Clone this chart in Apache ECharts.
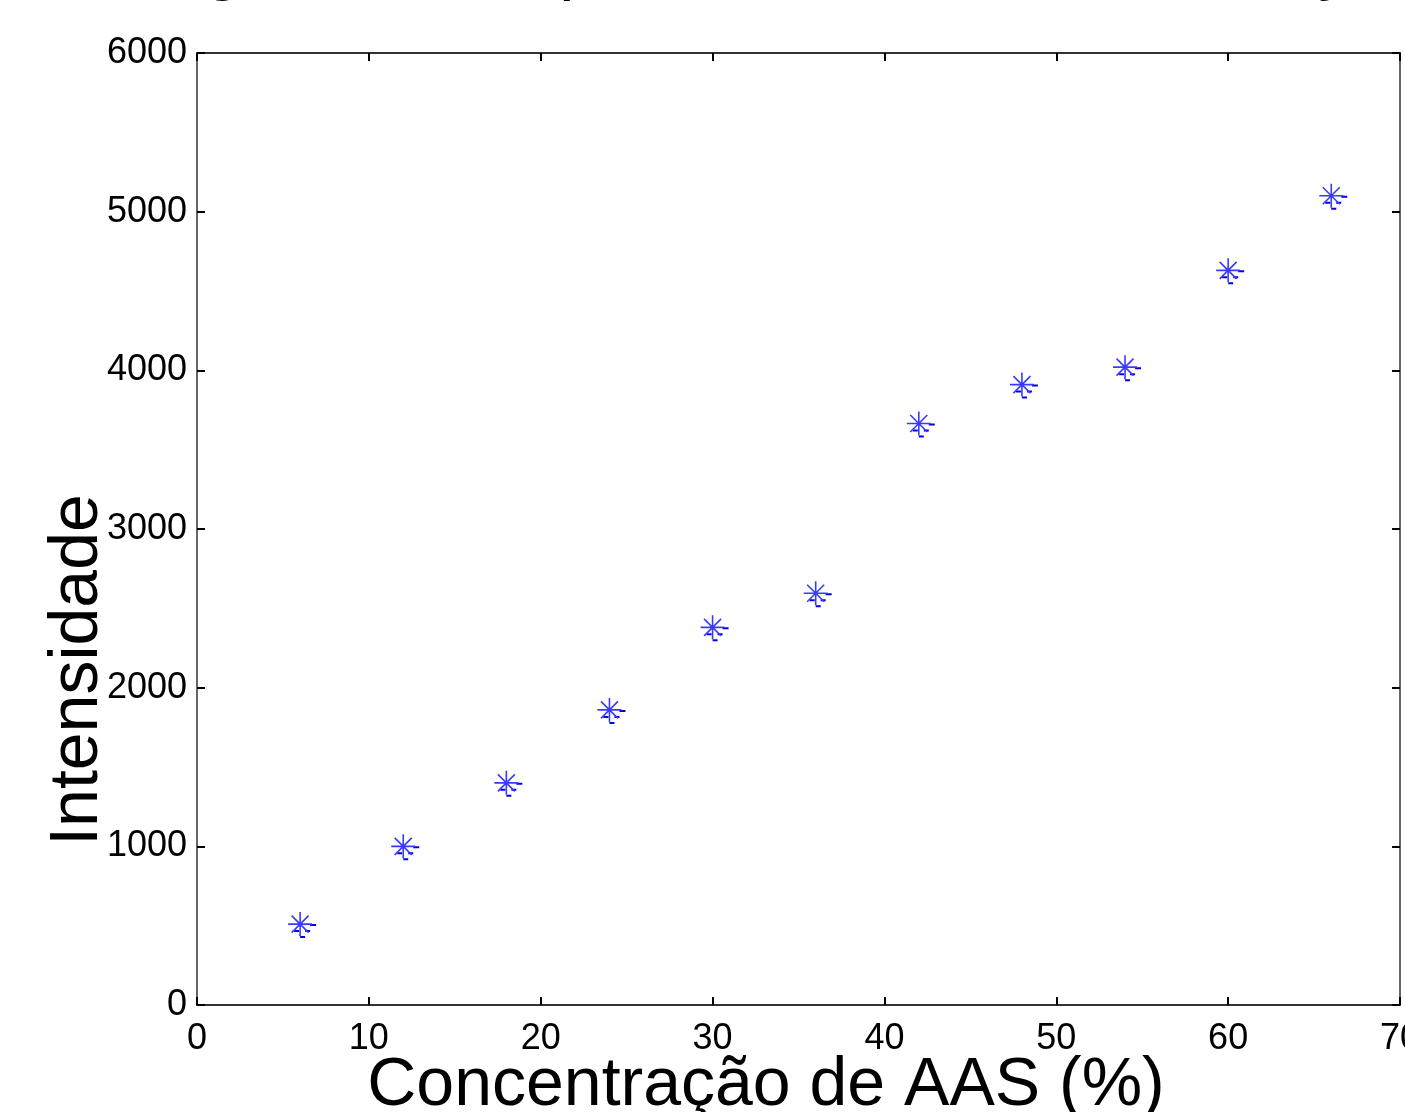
<!DOCTYPE html>
<html>
<head>
<meta charset="utf-8">
<title>Intensidade x Concentração de AAS</title>
<script src="https://cdn.jsdelivr.net/npm/echarts@6/dist/echarts.min.js"></script>
<style>
  body { margin: 0; background: #fff; }
  #echarts { width: 1405px; height: 1112px; }
</style>
</head>
<body>
<div id="echarts"></div>
<script>
// dados
var concentracao = [6, 12, 18, 24, 30, 36, 42, 48, 54, 60, 66];
var intensidade = [510, 1000, 1400, 1860, 2380, 2595, 3665, 3910, 4020, 4630, 5100];
var xTicks = [0, 10, 20, 30, 40, 50, 60, 70];
var yTicks = [0, 1000, 2000, 3000, 4000, 5000, 6000];

var pontos = concentracao.map(function (c, i) { return [c, intensidade[i]]; });

var fonte = '"Liberation Sans", Arial, sans-serif';

// asterisco do matlab e os tracinhos embaixo
var asterisco = 'path://M12 0 L12 24 M0 12 L24 12 M3.5 3.5 L20.5 20.5 M20.5 3.5 L3.5 20.5';
var tracos = 'path://M16 0 h6 v2 h-6 Z M0 6 h5 v2 h-5 Z M11 6 h5 v2 h-5 Z M6 12 h5 v2 h-5 Z';

function linha(cor) {
  return { show: true, onZero: false, lineStyle: { color: cor, width: 2 } };
}
function tick() {
  return { show: true, inside: true, length: 8, lineStyle: { color: '#000', width: 2 } };
}

var chart = echarts.init(document.getElementById('echarts'));
var option = {
  animation: false,
  grid: { left: 197, top: 53, right: 5, bottom: 107, outerBoundsMode: 'none', containLabel: false },
  xAxis: [{
    type: 'value',
    min: xTicks[0], max: xTicks[xTicks.length - 1], interval: 10,
    axisLine: linha('#333'), axisTick: tick(),
    splitLine: { show: false },
    axisLabel: { color: '#000', fontSize: 36, fontFamily: fonte, margin: 16, showMaxLabel: true, hideOverlap: false }
  }, {
    type: 'value', position: 'top',
    min: xTicks[0], max: xTicks[xTicks.length - 1], interval: 10,
    axisLine: linha('#333'), axisTick: tick(),
    splitLine: { show: false }, axisLabel: { show: false }
  }],
  yAxis: [{
    type: 'value',
    min: yTicks[0], max: yTicks[yTicks.length - 1], interval: 1000,
    axisLine: linha('#666'), axisTick: tick(),
    splitLine: { show: false },
    axisLabel: {
      color: '#000', fontSize: 36, fontFamily: fonte, margin: 10, padding: [8, 0, 0, 0],
      formatter: function (v) { return String(v); }
    }
  }, {
    type: 'value', position: 'right',
    min: yTicks[0], max: yTicks[yTicks.length - 1], interval: 1000,
    axisLine: linha('#666'), axisTick: tick(),
    splitLine: { show: false }, axisLabel: { show: false }
  }],
  graphic: [
    {
      // titulo cortado no topo, so aparecem as partes de baixo
      type: 'text', x: 117, y: -32,
      style: { text: 'Regressão de padrão versus concentração', font: '68px ' + fonte, fill: '#000', textVerticalAlign: 'middle' }
    },
    {
      type: 'text', x: 78, y: 670, rotation: Math.PI / 2,
      style: { text: 'Intensidade', font: '68px ' + fonte, fill: '#000', textAlign: 'center', textVerticalAlign: 'middle' }
    },
    {
      type: 'text', x: 766, y: 1086,
      style: { text: 'Concentração de AAS (%)', font: '68px ' + fonte, fill: '#000', textAlign: 'center', textVerticalAlign: 'middle' }
    }
  ],
  series: [{
    type: 'scatter',
    data: pontos,
    symbol: tracos,
    symbolSize: [22, 14],
    symbolOffset: [5, 7],
    itemStyle: { color: '#0000e0', opacity: 1 }
  }, {
    type: 'scatter',
    data: pontos,
    symbol: asterisco,
    symbolSize: 24,
    itemStyle: { color: 'transparent', borderColor: '#3a3aff', borderWidth: 1.6, opacity: 1 }
  }]
};
chart.setOption(option);

window.onresize = function () {
  chart.resize();
};
</script>
</body>
</html>
